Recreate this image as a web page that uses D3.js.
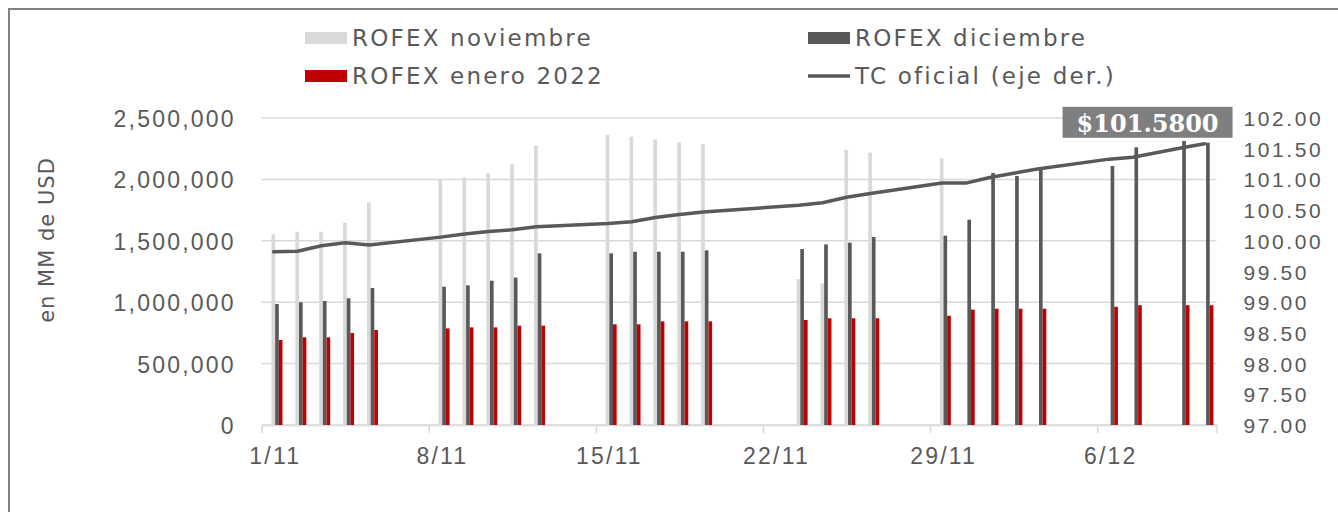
<!DOCTYPE html>
<html>
<head>
<meta charset="utf-8">
<script src="https://cdn.jsdelivr.net/npm/d3@7"></script>
<style>
    body { margin: 0; background: #fff; }
    svg { display: block; }
</style>
</head>
<body>
<svg id="vis"></svg>
<script>
// trading days (nov 2021 - dic 2021)
const DATES = ["2021-11-01","2021-11-02","2021-11-03","2021-11-04","2021-11-05",
    "2021-11-08","2021-11-09","2021-11-10","2021-11-11","2021-11-12",
    "2021-11-15","2021-11-16","2021-11-17","2021-11-18","2021-11-19",
    "2021-11-23","2021-11-24","2021-11-25","2021-11-26",
    "2021-11-29","2021-11-30","2021-12-01","2021-12-02","2021-12-03",
    "2021-12-06","2021-12-07","2021-12-09","2021-12-10"];

const NOVIEMBRE = [1553000,1574000,1574000,1647000,1813000,
    1995000,2017000,2050000,2123000,2275000,
    2362000,2348000,2326000,2302000,2288000,
    1189000,1154000,2239000,2218000,
    2172000,0,0,0,0,
    0,0,0,0];

const DICIEMBRE = [985000,999000,1010000,1032000,1116000,
    1126000,1137000,1175000,1200000,1398000,
    1398000,1411000,1411000,1411000,1422000,
    1433000,1471000,1485000,1531000,
    1542000,1672000,2053000,2028000,2090000,
    2109000,2261000,2313000,2299000];

const ENERO = [692000,714000,714000,749000,774000,
    787000,795000,795000,809000,809000,
    820000,820000,844000,844000,844000,
    855000,869000,869000,869000,
    890000,939000,947000,947000,947000,
    963000,975000,975000,975000];

const TC = [99.82,99.83,99.92,99.97,99.93,
    100.06,100.11,100.15,100.18,100.23,
    100.28,100.31,100.38,100.43,100.47,
    100.58,100.62,100.71,100.77,
    100.94,100.94,101.03,101.10,101.17,
    101.33,101.36,101.51,101.58];

const SERIES = ["ROFEX noviembre","ROFEX diciembre","ROFEX enero 2022"];
const LINE_NAME = "TC oficial (eje der.)";
const TICK_LABELS = ["1/11","8/11","15/11","22/11","29/11","6/12"];
const Y_TICKS = [0,500000,1000000,1500000,2000000,2500000];
const Y2_TICKS = [97,97.5,98,98.5,99,99.5,100,100.5,101,101.5,102];

const WIDTH = 1338;
const HEIGHT = 512;
const LEFT = 261.7, RIGHT = 1216.5, TOP = 118, BOTTOM = 425;
const GRID = "#d9d9d9";
const TXT = "#595959";
const COLORS = ["#d9d9d9", "#595959", "#c00000"];
const SPACING = "2.2px";

window.onload = function(){
    draw();
};

function draw(){
    let parse = d3.utcParse("%Y-%m-%d");
    let data = DATES.map(function(d, i){
        return { date: parse(d), v: [NOVIEMBRE[i], DICIEMBRE[i], ENERO[i]], tc: TC[i] };
    });

    let start = parse("2021-11-01");
    let end = parse("2021-12-11");

    let xScale = d3.scaleUtc()
        .domain([start, end])
        .range([LEFT, RIGHT]);
    let bw = xScale(d3.utcDay.offset(start, 1)) - xScale(start);

    // bars sit a bit right of the band, like the original
    let x1 = d3.scaleBand()
        .domain([0,1,2])
        .range([bw * 0.41, bw * 0.87]);

    let yScale = d3.scaleLinear()
        .domain([0, 2500000])
        .range([BOTTOM, TOP]);

    let y2Scale = d3.scaleLinear()
        .domain([97, 102])
        .range([BOTTOM, TOP]);

    let svg = d3.select("#vis")
        .attr("width", WIDTH)
        .attr("height", HEIGHT)
        .attr("font-family", "'DejaVu Sans', Verdana, sans-serif");

    // frame
    svg.append("rect")
        .attr("x", 9).attr("y", 9)
        .attr("width", WIDTH + 20).attr("height", HEIGHT + 20)
        .attr("fill", "none")
        .attr("stroke", "#808080")
        .attr("stroke-width", 2);

    // gridlines
    svg.append("g")
        .selectAll("line")
        .data(Y_TICKS)
        .enter()
        .append("line")
        .attr("x1", LEFT).attr("x2", RIGHT)
        .attr("y1", function(d){ return yScale(d); })
        .attr("y2", function(d){ return yScale(d); })
        .attr("stroke", GRID)
        .attr("stroke-width", 1.5);

    // x axis
    let tickDates = TICK_LABELS.map(function(t){
        return d3.utcParse("%d/%m/%Y")(t + "/2021");
    });
    let xAxis = svg.append("g")
        .attr("transform", "translate(0," + BOTTOM + ")")
        .call(d3.axisBottom(xScale)
            .tickValues(tickDates)
            .tickSize(8)
            .tickFormat(function(d, i){ return TICK_LABELS[i]; }));
    xAxis.select(".domain").attr("stroke", GRID).attr("stroke-width", 1.5);
    xAxis.selectAll(".tick line").attr("stroke", GRID).attr("stroke-width", 1.5);
    xAxis.selectAll(".tick text")
        .attr("x", bw / 2 + 1.1)
        .attr("y", 39)
        .attr("dy", 0)
        .attr("fill", TXT)
        .attr("font-size", "23px")
        .style("letter-spacing", SPACING);

    // left axis labels
    let yAxis = svg.append("g")
        .attr("transform", "translate(" + LEFT + ",0)")
        .call(d3.axisLeft(yScale)
            .tickValues(Y_TICKS)
            .tickSize(0)
            .tickFormat(d3.format(",")));
    yAxis.select(".domain").remove();
    yAxis.selectAll(".tick text")
        .attr("x", -26)
        .attr("dy", 8.5)
        .attr("fill", TXT)
        .attr("font-size", "23px")
        .style("letter-spacing", SPACING);

    // right axis labels
    let y2Axis = svg.append("g")
        .attr("transform", "translate(" + RIGHT + ",0)")
        .call(d3.axisRight(y2Scale)
            .tickValues(Y2_TICKS)
            .tickSize(0)
            .tickFormat(d3.format(".2f")));
    y2Axis.select(".domain").remove();
    y2Axis.selectAll(".tick text")
        .attr("x", 27)
        .attr("dy", 7.5)
        .attr("fill", TXT)
        .attr("font-size", "21px")
        .style("letter-spacing", "2.6px");

    // y title
    svg.append("text")
        .text("en MM de USD")
        .attr("transform", "translate(54,240) rotate(-90)")
        .attr("text-anchor", "middle")
        .attr("fill", TXT)
        .attr("font-size", "21px")
        .style("letter-spacing", "1px");

    // bars
    let groups = svg.append("g")
        .selectAll("g")
        .data(data)
        .enter()
        .append("g")
        .attr("transform", function(d){ return "translate(" + xScale(d.date) + ",0)"; });

    groups.selectAll("rect")
        .data(function(d){ return d.v; })
        .enter()
        .append("rect")
        .attr("x", function(d, i){ return x1(i); })
        .attr("width", x1.bandwidth())
        .attr("y", function(d){ return yScale(d); })
        .attr("height", function(d){ return BOTTOM - yScale(d); })
        .style("fill", function(d, i){ return COLORS[i]; })
        .style("stroke", "none");

    // tc line
    let line = d3.line()
        .x(function(d){ return xScale(d.date) + bw / 2; })
        .y(function(d){ return y2Scale(d.tc); });

    svg.append("path")
        .datum(data)
        .attr("d", line)
        .attr("fill", "none")
        .attr("stroke", "#595959")
        .attr("stroke-width", 3.5)
        .attr("stroke-linejoin", "round")
        .attr("stroke-linecap", "round");

    // callout with last value
    let last = data[data.length - 1];
    let lx = xScale(last.date) + bw / 2;
    let ly = y2Scale(last.tc);
    let boxW = 170, boxH = 31;
    svg.append("rect")
        .attr("x", lx + 28 - boxW)
        .attr("y", ly - 6 - boxH)
        .attr("width", boxW)
        .attr("height", boxH)
        .attr("fill", "#7f7f7f");
    svg.append("text")
        .text("$" + d3.format(".4f")(last.tc))
        .attr("x", lx + 28 - boxW / 2)
        .attr("y", ly - 12)
        .attr("text-anchor", "middle")
        .attr("font-family", "'DejaVu Serif', serif")
        .attr("font-weight", "bold")
        .attr("font-size", "24px")
        .attr("fill", "#ffffff");

    // legend
    let legend = [
        { name: SERIES[0], color: COLORS[0], x: 305, y: 38, type: "rect" },
        { name: SERIES[1], color: COLORS[1], x: 808, y: 38, type: "rect" },
        { name: SERIES[2], color: COLORS[2], x: 305, y: 76, type: "rect" },
        { name: LINE_NAME, color: "#595959", x: 808, y: 76, type: "line" }
    ];

    let leg = svg.append("g")
        .selectAll("g")
        .data(legend)
        .enter()
        .append("g")
        .attr("transform", function(d){ return "translate(" + d.x + "," + d.y + ")"; });

    leg.filter(function(d){ return d.type == "rect"; })
        .append("rect")
        .attr("x", 0).attr("y", -6)
        .attr("width", 42).attr("height", 12)
        .attr("fill", function(d){ return d.color; });

    leg.filter(function(d){ return d.type == "line"; })
        .append("line")
        .attr("x1", 0).attr("x2", 42)
        .attr("y1", 0).attr("y2", 0)
        .attr("stroke", function(d){ return d.color; })
        .attr("stroke-width", 3.5);

    leg.append("text")
        .text(function(d){ return d.name; })
        .attr("x", 47)
        .attr("y", 8)
        .attr("fill", TXT)
        .attr("font-size", "23px")
        .style("letter-spacing", SPACING);
}
</script>
</body>
</html>
